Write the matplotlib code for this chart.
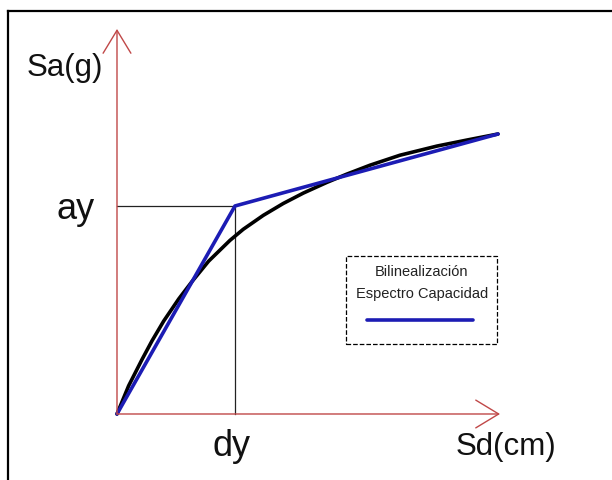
import matplotlib
matplotlib.use("Agg")
import matplotlib.pyplot as plt
from matplotlib.patches import Rectangle

plt.rcParams['font.family'] = ['Liberation Sans', 'DejaVu Sans']

# capacity spectrum (normalised: dy = 1, ay = 1)
sd_curve = [0.0, 0.099, 0.212, 0.297, 0.396, 0.523, 0.636, 0.777, 0.958, 1.070,
            1.240, 1.409, 1.579, 1.777, 1.947, 2.144, 2.398, 2.712, 2.966, 3.229]
sa_curve = [0.0, 0.136, 0.262, 0.352, 0.447, 0.553, 0.637, 0.735, 0.835, 0.888,
            0.955, 1.012, 1.062, 1.113, 1.153, 1.196, 1.244, 1.288, 1.317, 1.346]

# bilinear fit
sd_bil = [0.0, 1.0, 3.229]
sa_bil = [0.0, 1.0, 1.346]

dy = 1.0
ay = 1.0
x_axis_end = 3.246
y_axis_end = 1.851

blue = '#1c1cb4'
red = '#c04848'

fig = plt.figure(figsize=(6.12, 4.81), dpi=100)
ax = fig.add_axes([0, 0, 1, 1])
ax.set_xlim(-0.9915, 4.195)
ax.set_ylim(-0.3173, 1.995)
ax.axis('off')

# frame (top + left only, like the cropped screenshot)
ax.plot([8 / 612, 1], [1 - 12 / 481, 1 - 12 / 481], color='black', lw=1.6,
        transform=ax.transAxes, clip_on=False)
ax.plot([8 / 612, 8 / 612], [1 - 12 / 481, 0], color='black', lw=1.6,
        transform=ax.transAxes, clip_on=False)

# axes with open arrowheads
arrow = dict(arrowstyle='->,head_length=1.65,head_width=1.0', color=red,
             lw=1.0, mutation_scale=10, shrinkA=0, shrinkB=0)
ax.annotate('', xy=(x_axis_end, 0), xytext=(0, 0), arrowprops=arrow)
ax.annotate('', xy=(0, y_axis_end), xytext=(0, 0), arrowprops=arrow)

# ay / dy guide lines
ax.plot([0, dy], [ay, ay], color='#222222', lw=0.9)
ax.plot([dy, dy], [0, ay], color='#222222', lw=0.9)

ax.plot(sd_curve, sa_curve, color='black', lw=2.6, solid_capstyle='round',
        solid_joinstyle='round')
ax.plot(sd_bil, sa_bil, color=blue, lw=2.6, solid_capstyle='round')

# labels
ax.text(64.5 / 612, 1 - 68 / 481, 'Sa(g)', fontsize=22.5, color='#111111',
        ha='center', va='center', transform=ax.transAxes)
ax.text(506 / 612, 1 - 447.5 / 481, 'Sd(cm)', fontsize=22.5, color='#111111',
        ha='center', va='center', transform=ax.transAxes)
ax.text(76 / 612, 1 - 219 / 481, 'ay', fontsize=26, color='#111111',
        ha='center', va='baseline', transform=ax.transAxes)
ax.text(232 / 612, 1 - 456 / 481, 'dy', fontsize=26, color='#111111',
        ha='center', va='baseline', transform=ax.transAxes)

# legend box
ax.add_patch(Rectangle((346 / 612, 1 - 345 / 481), 151 / 612, 88 / 481,
                       fill=False, ls='--', lw=0.9, edgecolor='black',
                       transform=ax.transAxes))
ax.text(421 / 612, 1 - 272 / 481, 'Bilinealización', fontsize=10.5,
        color='#222222', ha='center', va='center', transform=ax.transAxes)
ax.text(422 / 612, 1 - 294 / 481, 'Espectro Capacidad', fontsize=10.5,
        color='#222222', ha='center', va='center', transform=ax.transAxes)
ax.plot([367 / 612, 473 / 612], [1 - 321 / 481, 1 - 321 / 481], color=blue,
        lw=2.6, solid_capstyle='round', transform=ax.transAxes)

fig.savefig('out.png', dpi=100)
